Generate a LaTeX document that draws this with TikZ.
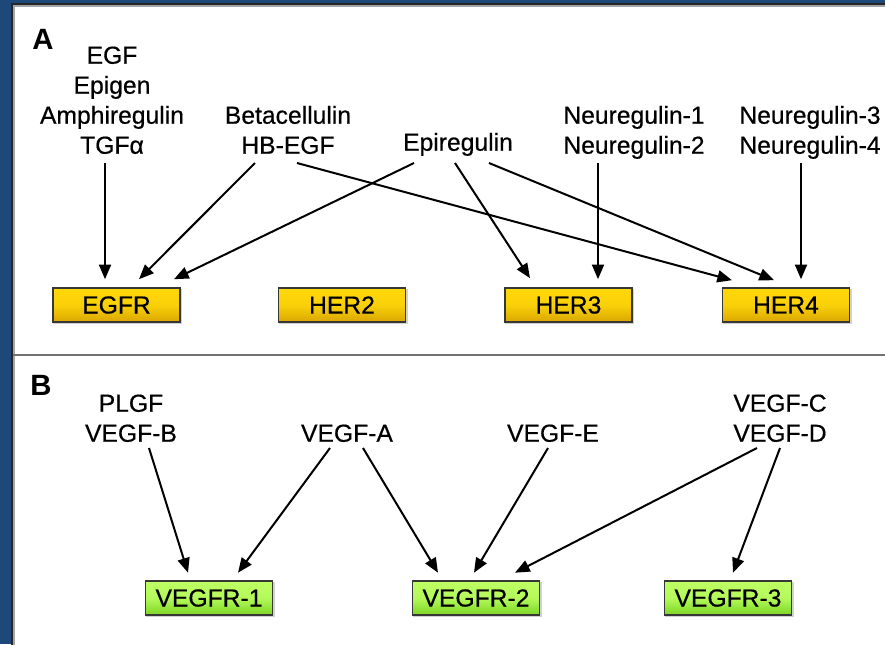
\documentclass[tikz,border=0pt]{standalone}
\usepackage{fontspec}
\setmainfont{Liberation Sans}
\newfontfamily\labelfont{Liberation Sans}[FakeBold=0.5]
\usetikzlibrary{arrows.meta,calc}
\definecolor{frameblue}{RGB}{31,72,122}
\definecolor{edgegray}{RGB}{55,55,55}
\definecolor{goldtop}{RGB}{255,216,10}
\definecolor{goldbot}{RGB}{218,166,0}
\definecolor{greentop}{RGB}{190,255,100}
\definecolor{greenbot}{RGB}{124,214,36}
\begin{document}
\begin{tikzpicture}[x=0.75pt,y=-0.75pt,
  lbl/.style={align=center,inner sep=0pt,text depth=0pt,anchor=south,
    font=\labelfont\fontsize{18.5}{22.5}\selectfont},
  panel/.style={inner sep=0pt,text depth=0pt,anchor=south,
    font=\fontsize{22}{26}\selectfont\bfseries},
  receptor/.style={rectangle,inner sep=0pt,minimum width=95pt,minimum height=25.5pt,
    draw=edgegray,line width=1.2pt,font=\labelfont\fontsize{18.5}{22}\selectfont},
  erbb/.style={receptor,top color=goldtop,bottom color=goldbot,middle color=goldtop!85!goldbot},
  vegfr/.style={receptor,top color=greentop,bottom color=greenbot,middle color=greentop!85!greenbot},
  halo/.style={fill=black!18,draw=none},
  link/.style={line width=1.5pt,-{Triangle[length=11pt,width=9pt]}}]
\useasboundingbox (0,0) rectangle (885,644);
% frame and panels
\fill[frameblue] (0,0) rectangle (885,644);
\fill[white] (12,4) rectangle (890,650);
\draw[black!85,line width=1.2pt] (12,650) -- (12,4) -- (890,4);
\draw[black!35,line width=1pt] (14,650) -- (14,6) -- (890,6);
\draw[black!55,line width=1.5pt] (13,355) -- (890,355);

% ---------- panel A: ErbB family ----------
\node[panel] (ta) at (43,50) {A};
\node[lbl] (egf) at (112,154) {EGF\\Epigen\\Amphiregulin\\TGFα};
\node[lbl] (hbegf) at (288,154) {Betacellulin\\HB-EGF};
\node[lbl] (epi) at (458,151) {Epiregulin};
\node[lbl] (nrg12) at (634,154) {Neuregulin-1\\Neuregulin-2};
\node[lbl] (nrg34) at (810,154) {Neuregulin-3\\Neuregulin-4};

% soft shadows behind the receptor boxes
\foreach \px/\py in {116.5/305,342/305,568.5/305,786/305,209/598,476/598,728/598}
  \fill[halo] (\px-63.5,\py-16.5) rectangle (\px+65.5,\py+18.5);

\node[erbb] (egfr) at (116.5,305) {EGFR};
\node[erbb] (her2) at (342,305) {HER2};
\node[erbb] (her3) at (568.5,305) {HER3};
\node[erbb] (her4) at (786,305) {HER4};

\draw[link] ($(egf.south)+(-7,9)$) -- ($(egfr.north)+(-11.5,-8)$);
\draw[link] ($(hbegf.south)+(-33,9)$) -- ($(egfr.north)+(22.5,-8)$);
\draw[link] ($(epi.south)+(-44,12)$) -- ($(egfr.north)+(57.5,-8)$);
\draw[link] ($(hbegf.south)+(9,9)$) -- ($(her4.north)+(-54,-7)$);
\draw[link] ($(epi.south)+(-3,12)$) -- ($(her3.north)+(-38.5,-9)$);
\draw[link] ($(epi.south)+(31,12)$) -- ($(her4.north)+(-12,-7)$);
\draw[link] ($(nrg12.south)+(-36,9)$) -- ($(her3.north)+(29.5,-8)$);
\draw[link] ($(nrg34.south)+(-9,9)$) -- ($(her4.north)+(15,-8)$);

% ---------- panel B: VEGF family ----------
\node[panel] (tb) at (41,396) {B};
\node[lbl] (plgf) at (131,442) {PLGF\\VEGF-B};
\node[lbl] (vegfa) at (347,442) {VEGF-A};
\node[lbl] (vegfe) at (553,442) {VEGF-E};
\node[lbl] (vegfcd) at (780,442) {VEGF-C\\VEGF-D};

\node[vegfr] (v1) at (209,598) {VEGFR-1};
\node[vegfr] (v2) at (476,598) {VEGFR-2};
\node[vegfr] (v3) at (728,598) {VEGFR-3};

\draw[link] ($(plgf.south)+(18,6)$) -- ($(v1.north)+(-21,-7.5)$);
\draw[link] ($(vegfa.south)+(-17,6)$) -- ($(v1.north)+(29,-7.5)$);
\draw[link] ($(vegfa.south)+(16,6)$) -- ($(v2.north)+(-38,-7.5)$);
\draw[link] ($(vegfe.south)+(-5,6)$) -- ($(v2.north)+(-2,-7.5)$);
\draw[link] ($(vegfcd.south)+(-23,6)$) -- ($(v2.north)+(39,-7.5)$);
\draw[link] ($(vegfcd.south)+(0,6)$) -- ($(v3.north)+(5,-7.5)$);
\end{tikzpicture}
\end{document}
